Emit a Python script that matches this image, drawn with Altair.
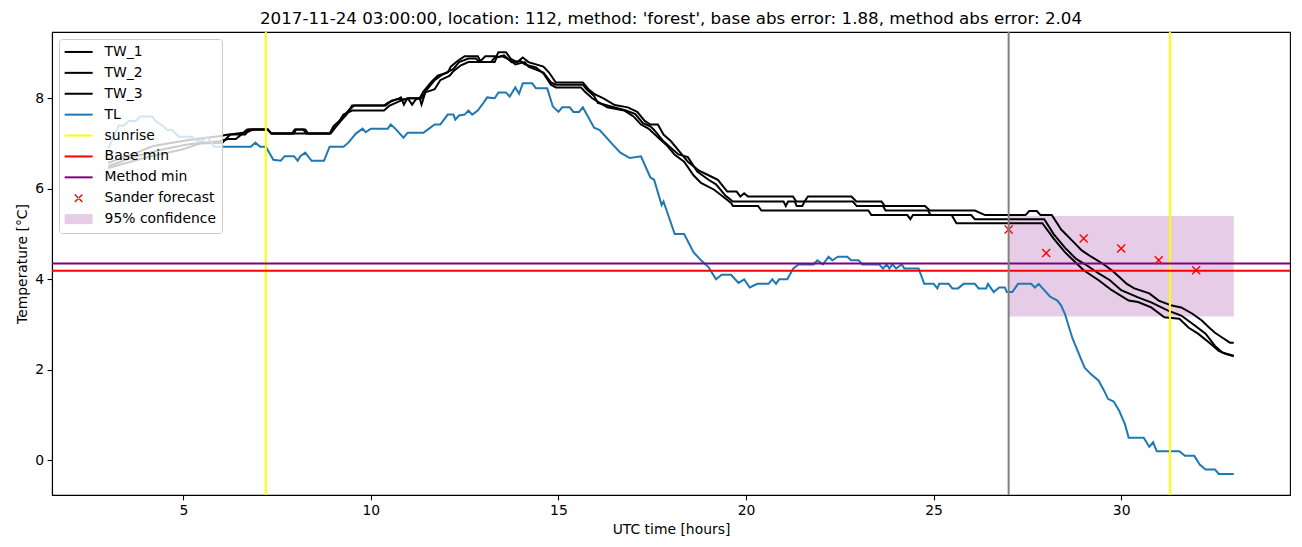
import altair as alt
import pandas as pd

TITLE = "2017-11-24 03:00:00, location: 112, method: 'forest', base abs error: 1.88, method abs error: 2.04"

# (hour, temperature)
TW_1 = [(3.0,6.57),(3.4,6.7),(3.73,6.79),(4.17,6.94),(4.7,7.02),(5.24,7.09),(5.95,7.16),(6.2,7.2),(6.65,7.2),(6.75,7.31),(7.25,7.31),(7.35,7.22),(7.9,7.22),(7.97,7.31),(8.2,7.31),(8.28,7.22),(8.9,7.22),
        (9.0,7.38),(9.2,7.53),(9.38,7.71),(9.55,7.84),(10.35,7.84),(10.45,7.9),(10.75,8.0),(10.8,8.02),(10.88,7.86),(10.97,8.0),(11.3,8.0),(11.4,8.15),(11.6,8.35),(11.78,8.5),(12.05,8.57),(12.13,8.7),(12.3,8.82),(12.5,8.93),(12.85,8.93),(12.92,8.82),(13.05,8.93),(13.35,8.93),(13.4,9.02),(13.6,9.02),(13.73,8.87),(13.9,8.8),(14.05,8.9),(14.2,8.8),(14.6,8.7),(14.75,8.57),(14.93,8.35),
        (15.65,8.35),(15.8,8.2),(15.95,8.1),(16.2,8.0),(16.5,7.85),(16.85,7.8),(17.1,7.7),(17.3,7.5),(17.45,7.42),(17.65,7.42),(17.8,7.2),(18.0,7.05),(18.2,6.85),(18.45,6.6),(18.75,6.4),(19.0,6.3),(19.25,6.2),(19.5,5.94),(19.75,5.94),(19.85,5.83),(19.95,5.9),(20.05,5.83),(21.25,5.83),(21.34,5.72),(21.56,5.72),(21.65,5.83),(22.81,5.83),(22.94,5.72),(23.61,5.72),(23.7,5.62),(24.77,5.62),(24.9,5.52),(26.1,5.52),(26.37,5.42),(27.45,5.42),(27.55,5.51),(27.75,5.51),(27.85,5.42),(28.15,5.42),(28.4,5.1),(28.7,4.85),(28.95,4.64),(29.2,4.5),(29.5,4.35),(29.75,4.2),(29.95,4.05),(30.15,3.9),(30.35,3.8),(30.75,3.69),(31.0,3.53),(31.35,3.42),(31.6,3.38),(31.9,3.24),(32.15,3.09),(32.35,2.93),(32.5,2.82),(32.7,2.71),(32.9,2.6),(33.0,2.6)]

TW_2 = [(3.0,6.5),(3.73,6.72),(4.44,6.87),(5.1,6.98),(5.95,7.05),(6.2,7.1),(6.4,7.1),(6.55,7.2),(6.7,7.31),(7.25,7.31),(7.35,7.22),(7.95,7.22),(8.0,7.31),(8.25,7.31),(8.33,7.22),(8.9,7.22),
        (9.1,7.42),(9.27,7.64),(9.5,7.73),(10.35,7.73),(10.5,7.84),(10.8,7.95),(11.0,8.0),(11.3,8.0),(11.35,7.86),(11.45,8.13),(11.7,8.2),(11.85,8.4),(12.1,8.5),(12.2,8.6),(12.4,8.73),(12.6,8.8),(13.2,8.8),(13.3,8.9),(13.5,8.93),(13.7,8.85),(13.85,8.75),(14.1,8.8),(14.2,8.7),(14.5,8.6),(14.6,8.57),(14.8,8.35),(14.93,8.3),
        (15.65,8.3),(15.75,8.2),(15.95,8.05),(16.05,7.9),(16.4,7.82),(16.8,7.73),(17.05,7.65),(17.25,7.45),(17.45,7.38),(17.55,7.3),(17.8,7.05),(18.0,6.9),(18.2,6.76),(18.45,6.7),(18.7,6.38),(19.0,6.2),(19.2,6.1),(19.45,5.85),(19.65,5.72),(21.0,5.72),(21.06,5.62),(21.12,5.72),(21.3,5.72),(21.35,5.62),(21.5,5.62),(21.56,5.72),(22.85,5.72),(22.95,5.62),(23.65,5.62),(23.72,5.52),(24.85,5.52),(24.92,5.42),(26.0,5.42),(26.1,5.33),(27.95,5.33),(28.2,5.0),(28.5,4.7),(28.8,4.45),(29.1,4.3),(29.4,4.13),(29.7,3.98),(30.0,3.76),(30.45,3.6),(30.8,3.49),(31.25,3.31),(31.6,3.2),(31.9,3.02),(32.25,2.8),(32.5,2.53),(32.7,2.38),(33.0,2.31)]

TW_3 = [(3.0,6.46),(4.04,6.7),(4.97,6.87),(5.45,7.0),(6.04,7.02),(6.25,7.2),(6.7,7.25),(6.85,7.31),(7.25,7.31),(7.35,7.22),(8.93,7.22),
        (9.05,7.35),(9.2,7.5),(9.35,7.64),(9.5,7.84),(10.4,7.84),(10.55,7.95),(10.7,7.98),(11.0,7.98),(11.1,7.86),(11.2,7.98),(11.35,8.0),(11.5,8.2),(11.7,8.4),(11.9,8.52),(12.2,8.65),(12.35,8.8),(12.6,8.88),(12.8,8.88),(12.9,8.8),(13.3,8.8),(13.35,8.9),(13.55,8.95),(13.75,8.8),(14.0,8.82),(14.1,8.75),(14.4,8.68),(14.6,8.55),(14.8,8.3),(14.93,8.24),
        (15.6,8.24),(15.7,8.15),(15.9,8.0),(16.1,7.9),(16.3,7.8),(16.75,7.73),(17.0,7.6),(17.2,7.42),(17.4,7.33),(17.7,7.1),(17.9,6.95),(18.1,6.75),(18.35,6.6),(18.6,6.3),(18.8,6.13),(19.15,5.98),(19.4,5.82),(19.6,5.69),(19.65,5.62),(20.32,5.62),(20.41,5.52),(23.26,5.52),(23.34,5.42),(24.3,5.42),(24.38,5.33),(24.45,5.42),(25.48,5.42),(25.61,5.24),(27.9,5.24),(28.2,4.9),(28.5,4.6),(28.75,4.4),(29.0,4.2),(29.4,3.98),(29.75,3.76),(30.2,3.53),(30.45,3.5),(30.8,3.38),(31.15,3.16),(31.55,3.13),(31.8,2.93),(32.05,2.8),(32.35,2.6),(32.6,2.42),(32.8,2.35),(33.0,2.3)]

TL = [(3.0,6.9),(3.15,7.15),(3.28,7.4),(3.42,7.4),(3.55,7.5),(3.73,7.5),(3.86,7.6),(4.17,7.6),(4.26,7.5),(4.44,7.4),(4.57,7.3),(4.7,7.3),(4.88,7.15),(5.24,7.15),(5.37,7.05),(5.51,7.05),(5.64,7.15),(5.73,7.05),(5.82,6.93),
      (6.8,6.93),(6.92,7.02),(7.05,6.93),(7.2,6.93),(7.4,6.64),(7.6,6.62),(7.7,6.72),(7.95,6.72),(8.05,6.62),(8.12,6.72),(8.25,6.8),(8.42,6.62),(8.75,6.62),(8.9,6.93),(9.27,6.93),(9.4,7.02),(9.6,7.22),(9.78,7.33),(9.86,7.25),(10.0,7.33),(10.45,7.33),(10.53,7.42),(10.65,7.33),(10.87,7.13),(10.98,7.24),(11.4,7.24),(11.55,7.33),(11.7,7.42),(11.85,7.42),(12.05,7.64),(12.2,7.64),(12.25,7.53),(12.35,7.62),(12.5,7.64),(12.6,7.73),(12.7,7.64),(12.85,7.73),(13.0,7.9),(13.1,8.02),(13.3,8.0),(13.4,8.13),(13.6,8.13),(13.7,8.04),(13.85,8.24),(13.95,8.1),(14.05,8.33),(14.3,8.33),(14.4,8.22),(14.7,8.22),(14.85,7.82),(15.0,7.7),(15.1,7.8),(15.3,7.8),(15.4,7.7),(15.55,7.7),(15.65,7.8),(15.95,7.35),(16.1,7.3),(16.4,7.02),(16.65,6.8),(16.9,6.68),(17.2,6.72),(17.45,6.25),(17.55,6.2),(17.75,5.64),(17.8,5.72),(18.1,5.0),(18.35,5.0),(18.6,4.6),(18.8,4.42),(19.0,4.27),(19.2,4.0),(19.35,4.1),(19.6,4.1),(19.8,3.92),(19.95,4.0),(20.1,3.82),(20.3,3.9),(20.6,3.9),(20.7,4.0),(20.8,3.9),(20.88,4.0),(21.1,4.0),(21.26,4.24),(21.4,4.33),(21.8,4.33),(21.9,4.42),(22.05,4.33),(22.2,4.5),(22.3,4.42),(22.45,4.5),(22.7,4.5),(22.8,4.42),(23.0,4.42),(23.1,4.33),(23.55,4.33),(23.65,4.24),(23.75,4.33),(23.82,4.24),(23.9,4.33),(24.0,4.24),(24.15,4.33),(24.22,4.24),(24.6,4.24),(24.75,3.9),(25.0,3.9),(25.1,3.8),(25.15,3.9),(25.4,3.9),(25.5,3.8),(25.65,3.8),(25.8,3.9),(26.1,3.9),(26.2,3.8),(26.4,3.8),(26.45,3.9),(26.6,3.72),(26.75,3.82),(26.9,3.82),(26.95,3.72),(27.1,3.72),(27.25,3.9),(27.6,3.9),(27.7,3.82),(27.8,3.9),(28.1,3.62),(28.3,3.53),(28.4,3.42),(28.5,3.24),(28.7,2.7),(28.9,2.3),(29.03,2.04),(29.2,1.9),(29.4,1.76),(29.55,1.53),(29.65,1.36),(29.8,1.3),(29.95,1.09),(30.1,0.8),(30.2,0.5),(30.6,0.5),(30.75,0.3),(30.85,0.4),(30.95,0.2),(31.55,0.2),(31.7,0.1),(31.95,0.1),(32.1,-0.1),(32.25,-0.2),(32.5,-0.2),(32.6,-0.3),(33.0,-0.3)]

SUNRISE = [7.2, 31.3]
FORECAST_START = [27.0]
BASE_MIN = [4.19]
METHOD_MIN = [4.35]
FC_HOURS = [27, 28, 29, 30, 31, 32]
FC_TEMP = [5.1, 4.58, 4.9, 4.68, 4.42, 4.2]
CONF_HOURS = [27.0, 33.0]
CONF_TEMP = [3.18, 5.4]

LEGEND_LABELS = ["TW_1", "TW_2", "TW_3", "TL", "sunrise", "Base min", "Method min", "Sander forecast", "95% confidence"]
LEGEND_COLORS = ["#000000", "#000000", "#000000", "#1f77b4", "#ffff00", "#ff0000", "#800080", "#ff0000", "#e6cce6"]
LINE_SYM = "M-2.8,-0.2L2.8,-0.2L2.8,0.2L-2.8,0.2Z"
X_SYM = "M-0.85,-0.65L-0.65,-0.85L0.85,0.65L0.65,0.85Z M-0.85,0.65L-0.65,0.85L0.85,-0.65L0.65,-0.85Z"
RECT_SYM = "M-2.8,-1L2.8,-1L2.8,1L-2.8,1Z"
LEGEND_SHAPES = [LINE_SYM] * 7 + [X_SYM, RECT_SYM]

X_TICKS = [5, 10, 15, 20, 25, 30]
Y_TICKS = [0, 2, 4, 6, 8]
X_DOMAIN = [1.5, 34.5]
Y_DOMAIN = [-0.765, 9.465]

W, H = 1238, 463

xs = alt.Scale(domain=X_DOMAIN, nice=False, zero=False)
ys = alt.Scale(domain=Y_DOMAIN, nice=False, zero=False)
xa = alt.Axis(values=X_TICKS, format="d", title="UTC time [hours]")
ya = alt.Axis(values=Y_TICKS, format="d", title="Temperature [°C]")

def X(f):
    return alt.X(f, type="quantitative", scale=xs, axis=xa)

def Y(f):
    return alt.Y(f, type="quantitative", scale=ys, axis=ya)

tw_rows = []
for name, pts in (("TW_1", TW_1), ("TW_2", TW_2), ("TW_3", TW_3)):
    for h, v in pts:
        tw_rows.append({"series": name, "hour": h, "temp": v})
tw_df = pd.DataFrame(tw_rows)
tl_df = pd.DataFrame(TL, columns=["hour", "temp"])

conf = alt.Chart(pd.DataFrame({"h0": [CONF_HOURS[0]], "h1": [CONF_HOURS[1]],
                               "t0": [CONF_TEMP[0]], "t1": [CONF_TEMP[1]]})).mark_rect(
    color="#800080", opacity=0.2).encode(x=X("h0"), x2="h1", y=Y("t0"), y2="t1")

tw = alt.Chart(tw_df).mark_line(color="black", strokeWidth=2).encode(
    x=X("hour"), y=Y("temp"), detail="series:N", order="hour:Q")
tl = alt.Chart(tl_df).mark_line(color="#1f77b4", strokeWidth=2).encode(
    x=X("hour"), y=Y("temp"), order="hour:Q")

sun = alt.Chart(pd.DataFrame({"hour": SUNRISE})).mark_rule(color="#ffff00", strokeWidth=2).encode(x=X("hour"))
start = alt.Chart(pd.DataFrame({"hour": FORECAST_START})).mark_rule(color="#808080", strokeWidth=2).encode(x=X("hour"))
base = alt.Chart(pd.DataFrame({"temp": BASE_MIN})).mark_rule(color="#ff0000", strokeWidth=2).encode(y=Y("temp"))
meth = alt.Chart(pd.DataFrame({"temp": METHOD_MIN})).mark_rule(color="#800080", strokeWidth=2).encode(y=Y("temp"))

fc = alt.Chart(pd.DataFrame({"hour": FC_HOURS, "temp": FC_TEMP})).mark_point(
    shape="M-1,-1L1,1M-1,1L1,-1", color="#ff0000", size=64, strokeWidth=1.4,
    filled=False, opacity=1).encode(x=X("hour"), y=Y("temp"))

# legend-only layer: its marks sit left of the canvas, only its legend shows
leg = alt.Chart(pd.DataFrame({"label": LEGEND_LABELS})).mark_point(
    filled=True, opacity=1, size=100, clip=True).encode(
    x=alt.value(-3000), y=alt.value(200),
    color=alt.Color("label:N", scale=alt.Scale(domain=LEGEND_LABELS, range=LEGEND_COLORS),
                    legend=alt.Legend(title=None)),
    shape=alt.Shape("label:N", scale=alt.Scale(domain=LEGEND_LABELS, range=LEGEND_SHAPES),
                    legend=alt.Legend(title=None)))

# chart title as a text mark centred above the plot area
title = alt.Chart(pd.DataFrame({"t": [TITLE]})).mark_text(
    font="DejaVu Sans", fontSize=16.7, color="black", align="center", baseline="alphabetic"
).encode(text="t:N", x=alt.value(W / 2), y=alt.value(-8))

chart = alt.layer(conf, tw, tl, sun, base, meth, fc, start, leg, title).properties(
    width=W, height=H,
    autosize=alt.AutoSizeParams(type="none"),
    padding={"left": 44, "top": 24, "right": 4, "bottom": 44},
).configure(font="DejaVu Sans").configure_view(
    stroke="black", strokeWidth=1.1
).configure_axis(
    grid=False, domainColor="black", domainWidth=1.1, tickColor="black", tickWidth=1.1,
    tickSize=4.9, labelFont="DejaVu Sans", labelFontSize=13.9, labelColor="black",
    labelPadding=3.5, titleFont="DejaVu Sans", titleFontSize=13.9, titleFontWeight="normal",
    titleColor="black", titlePadding=5.6, labelOverlap=False
).configure_legend(
    orient="top-left", offset=7, padding=6, fillColor="rgba(255,255,255,0.8)",
    strokeColor="#cccccc", strokeWidth=1, cornerRadius=3,
    labelFont="DejaVu Sans", labelFontSize=13.9, labelColor="black", labelLimit=400,
    symbolSize=100, symbolStrokeWidth=0, symbolOffset=6.7, labelOffset=19, rowPadding=5.9
)

chart.save("out.html", embed_options={"renderer": "svg", "actions": False})
